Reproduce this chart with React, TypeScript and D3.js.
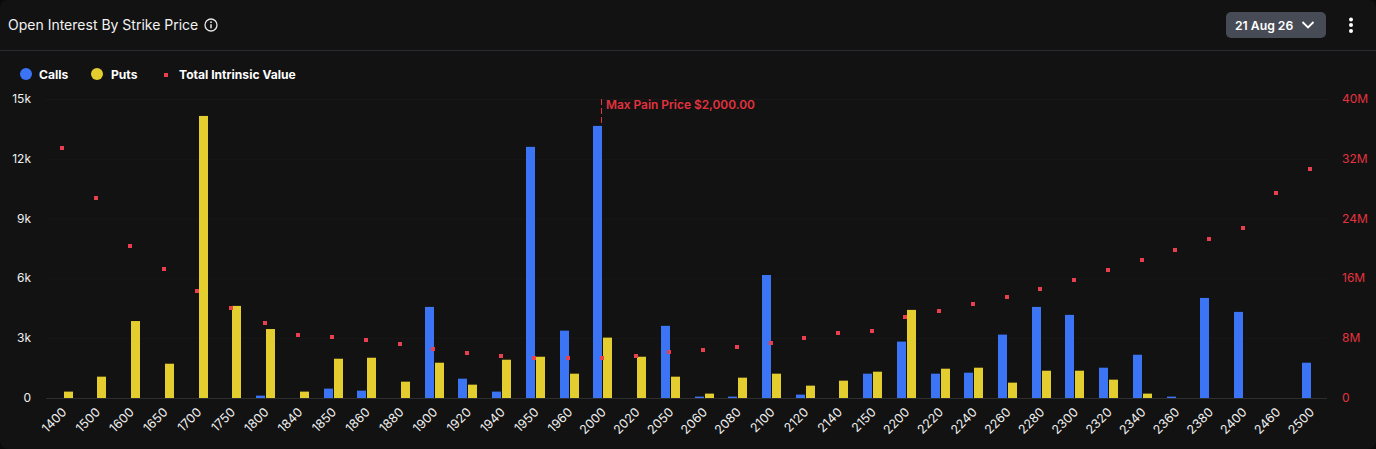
import { useEffect, useRef } from 'react';
import * as d3 from 'd3';

const strikes = ['1400', '1500', '1600', '1650', '1700', '1750', '1800', '1840', '1850', '1860', '1880', '1900', '1920', '1940', '1950', '1960', '2000', '2020', '2050', '2060', '2080', '2100', '2120', '2140', '2150', '2200', '2220', '2240', '2260', '2280', '2300', '2320', '2340', '2360', '2380', '2400', '2460', '2500'];

const calls = [0, 0, 0, 0, 0, 0, 120, 0, 470, 370, 0, 4570, 970, 320, 12600, 3380, 13650, 0, 3620, 70, 70, 6170, 170, 0, 1220, 2830, 1220, 1270, 3180, 4570, 4170, 1520, 2170, 70, 5020, 4320, 0, 1770];

const puts = [320, 1070, 3860, 1720, 14150, 4620, 3460, 320, 1970, 2020, 820, 1770, 670, 1920, 2070, 1220, 3030, 2070, 1070, 220, 1020, 1220, 620, 870, 1320, 4420, 1470, 1520, 770, 1370, 1370, 920, 220, 0, 0, 0, 0, 0];

// total intrinsic value, in millions
const intrinsic = [33.4, 26.8, 20.3, 17.3, 14.3, 12.0, 10.0, 8.4, 8.2, 7.8, 7.2, 6.6, 6.0, 5.6, 5.35, 5.3, 5.35, 5.6, 6.1, 6.4, 6.8, 7.4, 8.0, 8.7, 9.0, 10.8, 11.6, 12.6, 13.5, 14.6, 15.8, 17.1, 18.5, 19.8, 21.3, 22.7, 27.4, 30.6];

const leftTicks = [0, 3000, 6000, 9000, 12000, 15000];
const rightTicks = [0, 8, 16, 24, 32, 40];

const FONT = 'Inter, sans-serif';
const BLUE = '#3b74f5';
const YELLOW = '#e4cd2e';
const RED = '#e8404f';
const RED_TEXT = '#e5323f';

const App = () => {
  const svgRef = useRef<SVGSVGElement | null>(null);

  useEffect(() => {
    const width = 1376;
    const height = 449;

    const svg = d3.select(svgRef.current);
    svg.selectAll('*').remove();
    svg.attr('width', width).attr('height', height).attr('font-family', FONT);

    svg.append('rect').attr('width', width).attr('height', height).attr('fill', '#0a0a0a');
    svg.append('rect').attr('width', width).attr('height', height).attr('rx', 8).attr('fill', '#121212');

    // Header
    svg.append('text')
      .attr('x', 8).attr('y', 30)
      .attr('font-size', 14).attr('fill', '#f2f2f2')
      .text('Open Interest By Strike Price');

    const info = svg.append('g').attr('transform', 'translate(211, 25)');
    info.append('circle').attr('r', 6).attr('fill', 'none').attr('stroke', '#e6e6e6').attr('stroke-width', 1.3);
    info.append('circle').attr('cy', -2.8).attr('r', 0.9).attr('fill', '#e6e6e6');
    info.append('line').attr('y1', -0.8).attr('y2', 3.2).attr('stroke', '#e6e6e6').attr('stroke-width', 1.5);

    svg.append('line')
      .attr('x1', 0).attr('x2', width).attr('y1', 50.5).attr('y2', 50.5)
      .attr('stroke', '#2a2a30');

    // Date picker
    svg.append('rect')
      .attr('x', 1226).attr('y', 12).attr('width', 100).attr('height', 26).attr('rx', 5)
      .attr('fill', '#474b55');
    svg.append('text')
      .attr('x', 1235).attr('y', 29.5)
      .attr('font-size', 12.2).attr('font-weight', 600).attr('fill', '#fff')
      .text('21 Aug 26');
    svg.append('path')
      .attr('d', d3.line()([[1302.5, 22], [1308, 27.5], [1313.5, 22]]) as string)
      .attr('fill', 'none').attr('stroke', '#fff').attr('stroke-width', 1.8);
    [19.5, 25, 31].forEach(cy => {
      svg.append('circle').attr('cx', 1351).attr('cy', cy).attr('r', 2).attr('fill', '#fff');
    });

    // Legend
    const legendY = 75;
    svg.append('circle').attr('cx', 26).attr('cy', legendY - 1).attr('r', 6).attr('fill', BLUE);
    svg.append('text').attr('x', 39).attr('y', legendY + 4)
      .attr('font-size', 12.1).attr('font-weight', 700).attr('fill', '#fff').text('Calls');
    svg.append('circle').attr('cx', 97).attr('cy', legendY - 1).attr('r', 6).attr('fill', YELLOW);
    svg.append('text').attr('x', 111).attr('y', legendY + 4)
      .attr('font-size', 12.1).attr('font-weight', 700).attr('fill', '#fff').text('Puts');
    svg.append('rect').attr('x', 164).attr('y', legendY - 2).attr('width', 4).attr('height', 4).attr('fill', RED);
    svg.append('text').attr('x', 179).attr('y', legendY + 4)
      .attr('font-size', 12.1).attr('font-weight', 700).attr('fill', '#fff').text('Total Intrinsic Value');

    // Scales
    const x = d3.scaleBand<string>().domain(strikes).range([45.5, 1327]);
    const y = d3.scaleLinear().domain([0, 15000]).range([398, 99]);
    const yRight = d3.scaleLinear().domain([0, 40]).range([398, 99]);
    const center = (s: string) => (x(s) as number) + x.bandwidth() / 2;

    // Grid
    svg.append('g').selectAll('line')
      .data(leftTicks.slice(1))
      .enter()
      .append('line')
      .attr('x1', 46).attr('x2', 1327)
      .attr('y1', d => y(d) + 0.5).attr('y2', d => y(d) + 0.5)
      .attr('stroke', '#181818');

    // Bars
    const barW = 9;
    svg.append('g').selectAll('rect')
      .data(strikes.map((s, i) => ({ s, v: calls[i] })).filter(d => d.v > 0))
      .enter()
      .append('rect')
      .attr('x', d => Math.round(center(d.s) - 8.6))
      .attr('y', d => y(d.v))
      .attr('width', barW)
      .attr('height', d => y(0) - y(d.v))
      .attr('fill', BLUE);

    svg.append('g').selectAll('rect')
      .data(strikes.map((s, i) => ({ s, v: puts[i] })).filter(d => d.v > 0))
      .enter()
      .append('rect')
      .attr('x', d => Math.round(center(d.s) + 1.4))
      .attr('y', d => y(d.v))
      .attr('width', barW)
      .attr('height', d => y(0) - y(d.v))
      .attr('fill', YELLOW);

    // Baseline
    svg.append('line')
      .attr('x1', 46).attr('x2', 1327).attr('y1', 398.5).attr('y2', 398.5)
      .attr('stroke', '#2e2e2e');

    // Intrinsic value points
    svg.append('g').selectAll('rect')
      .data(strikes.map((s, i) => ({ s, v: intrinsic[i] })))
      .enter()
      .append('rect')
      .attr('x', d => Math.round(center(d.s) - 2))
      .attr('y', d => Math.round(yRight(d.v) - 2))
      .attr('width', 4)
      .attr('height', 4)
      .attr('fill', RED);

    // Max pain marker
    const maxPainX = Math.floor(center('2000')) + 0.5;
    svg.append('line')
      .attr('x1', maxPainX).attr('x2', maxPainX).attr('y1', 99).attr('y2', 126)
      .attr('stroke', RED_TEXT).attr('stroke-dasharray', '6 3');
    svg.append('text')
      .attr('x', 606).attr('y', 109)
      .attr('font-size', 11.9).attr('font-weight', 600).attr('fill', RED_TEXT)
      .text('Max Pain Price $2,000.00');

    // Axis labels
    svg.append('g').selectAll('text')
      .data(leftTicks)
      .enter()
      .append('text')
      .attr('x', 31).attr('y', d => y(d) + 4)
      .attr('text-anchor', 'end')
      .attr('font-size', 12).attr('fill', '#f0f0f0')
      .text(d => (d === 0 ? '0' : `${d / 1000}k`));

    svg.append('g').selectAll('text')
      .data(rightTicks)
      .enter()
      .append('text')
      .attr('x', 1342).attr('y', d => yRight(d) + 4)
      .attr('font-size', 12).attr('fill', RED_TEXT)
      .text(d => (d === 0 ? '0' : `${d}M`));

    svg.append('g').selectAll('text')
      .data(strikes)
      .enter()
      .append('text')
      .attr('transform', d => `translate(${center(d) + 5}, 413) rotate(-45)`)
      .attr('text-anchor', 'end')
      .attr('font-size', 12.5).attr('fill', '#f0f0f0')
      .text(d => d);
  }, []);

  return <svg ref={svgRef} style={{ position: 'absolute', left: 0, top: 0, display: 'block' }}></svg>;
};

export default App;
